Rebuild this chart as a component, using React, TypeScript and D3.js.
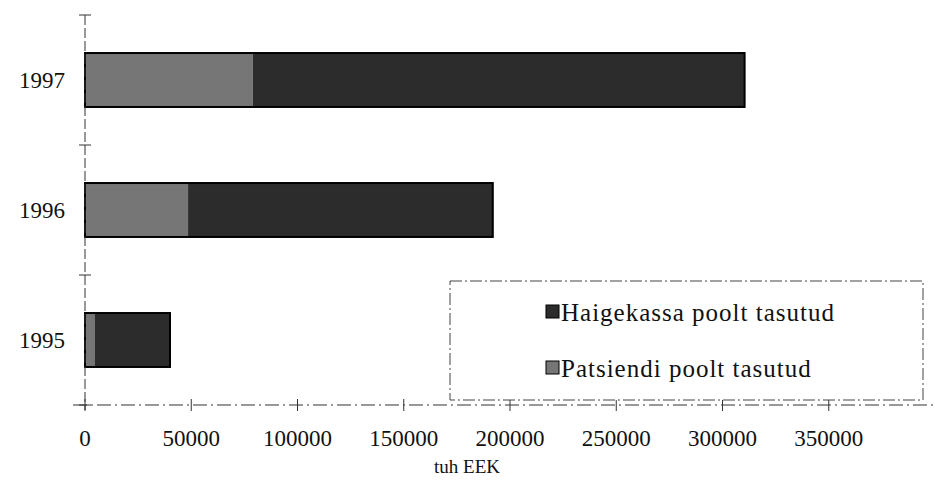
import React, { useRef, useEffect } from "react";
import * as d3 from "d3";

const years = ["1995", "1996", "1997"];
const patsiendi = [4700, 48500, 79000];
const haigekassa = [35300, 143400, 231400];
const seriesNames = ["Haigekassa poolt tasutud", "Patsiendi poolt tasutud"];
const xTicks = [0, 50000, 100000, 150000, 200000, 250000, 300000, 350000];

const App: React.FC = () => {
  const svgRef = useRef<SVGSVGElement | null>(null);
  const width = 935;
  const height = 493;

  useEffect(() => {
    if (!svgRef.current) return;
    const svg = d3.select(svgRef.current);
    svg.selectAll("*").remove();

    const margin = { left: 85, top: 15, bottom: 88 };
    // axis runs to 400000 at the right edge, last label is cut off
    const x = d3.scaleLinear().domain([0, 400000]).range([margin.left, 935]);
    const y = d3
      .scaleBand<string>()
      .domain([...years].reverse())
      .range([margin.top, height - margin.bottom])
      .paddingInner(0.585)
      .paddingOuter(0.2925);

    const stackData = years.map((yr, i) => ({
      year: yr,
      pat: patsiendi[i],
      hai: haigekassa[i],
    }));
    const stack = d3.stack<any>().keys(["pat", "hai"]);
    const series = stack(stackData);
    const fills: Record<string, string> = { pat: "#767676", hai: "#2c2c2c" };

    // bars
    series.forEach((s) => {
      svg
        .append("g")
        .selectAll("rect")
        .data(s)
        .enter()
        .append("rect")
        .attr("x", (d) => x(d[0]))
        .attr("y", (d) => y(d.data.year)!)
        .attr("width", (d) => x(d[1]) - x(d[0]))
        .attr("height", y.bandwidth())
        .attr("fill", fills[s.key]);
    });
    // outline of whole bar
    svg
      .append("g")
      .selectAll("rect")
      .data(stackData)
      .enter()
      .append("rect")
      .attr("x", x(0))
      .attr("y", (d) => y(d.year)!)
      .attr("width", (d) => x(d.pat + d.hai) - x(0))
      .attr("height", y.bandwidth())
      .attr("fill", "none")
      .attr("stroke", "#000")
      .attr("stroke-width", 2);

    const y0 = height - margin.bottom;
    const axisColor = "#333";
    const serif = "Liberation Serif, serif";

    // y axis
    svg
      .append("line")
      .attr("x1", x(0))
      .attr("x2", x(0))
      .attr("y1", margin.top)
      .attr("y2", y0 + 5)
      .attr("stroke", axisColor)
      .attr("stroke-dasharray", "10,3");
    const step = y.step();
    d3.range(4).forEach((i) => {
      svg
        .append("line")
        .attr("x1", x(0) - 6)
        .attr("x2", x(0) + 6)
        .attr("y1", margin.top + i * step)
        .attr("y2", margin.top + i * step)
        .attr("stroke", axisColor);
    });
    svg
      .append("g")
      .selectAll("text")
      .data(years)
      .enter()
      .append("text")
      .attr("x", 65)
      .attr("y", (d) => y(d)! + y.bandwidth() / 2)
      .attr("dy", "0.35em")
      .attr("text-anchor", "end")
      .attr("font-family", serif)
      .attr("font-size", 23)
      .attr("fill", "#111")
      .text((d) => d);

    // x axis
    svg
      .append("line")
      .attr("x1", x(0) - 12)
      .attr("x2", width)
      .attr("y1", y0)
      .attr("y2", y0)
      .attr("stroke", axisColor)
      .attr("stroke-dasharray", "14,4,2,4");
    svg
      .append("g")
      .selectAll("line")
      .data(xTicks)
      .enter()
      .append("line")
      .attr("x1", (d) => x(d))
      .attr("x2", (d) => x(d))
      .attr("y1", y0 - 6)
      .attr("y2", y0 + 6)
      .attr("stroke", axisColor);
    svg
      .append("g")
      .selectAll("text")
      .data(xTicks)
      .enter()
      .append("text")
      .attr("x", (d) => x(d))
      .attr("y", 446)
      .attr("text-anchor", "middle")
      .attr("font-family", serif)
      .attr("font-size", 23)
      .attr("fill", "#111")
      .text((d) => String(d));
    svg
      .append("text")
      .attr("x", 467)
      .attr("y", 473)
      .attr("text-anchor", "middle")
      .attr("font-family", serif)
      .attr("font-size", 19)
      .attr("fill", "#111")
      .text("tuh EEK");

    // legend
    const lg = svg.append("g");
    lg.append("rect")
      .attr("x", 450)
      .attr("y", 281)
      .attr("width", 473)
      .attr("height", 119)
      .attr("fill", "#fff")
      .attr("stroke", "#444")
      .attr("stroke-dasharray", "12,3,2,3");
    const legendFills = [fills.hai, fills.pat];
    seriesNames.forEach((name, i) => {
      const cy = 312 + i * 56;
      lg.append("rect")
        .attr("x", 546)
        .attr("y", cy - 7)
        .attr("width", 13)
        .attr("height", 13)
        .attr("fill", legendFills[i])
        .attr("stroke", "#000");
      lg.append("text")
        .attr("x", 561)
        .attr("y", cy)
        .attr("dy", "0.35em")
        .attr("font-family", serif)
        .attr("font-size", 25)
        .attr("letter-spacing", 1)
        .attr("fill", "#111")
        .text(name);
    });
  }, []);

  return (
    <svg
      ref={svgRef}
      width={width}
      height={height}
      style={{ position: "absolute", left: 0, top: 0, background: "#fff" }}
    ></svg>
  );
};

export default App;
